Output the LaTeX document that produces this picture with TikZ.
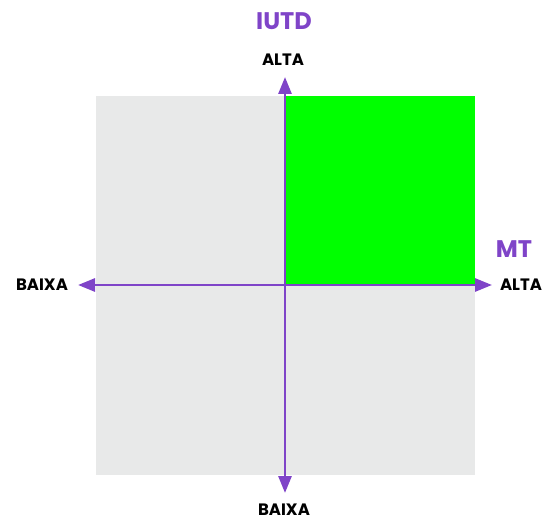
\documentclass[tikz,border=0pt]{standalone}
\usepackage{fontspec}
\setmainfont{Poppins}
\usetikzlibrary{arrows.meta}
\definecolor{axispurple}{HTML}{7F44C8}
\definecolor{panelgray}{HTML}{E8E9E9}
\definecolor{quadgreen}{HTML}{00FF00}
\tikzset{
  axisline/.style={draw=axispurple, line width=2.8pt,
    arrows={Triangle[length=17pt,width=13pt]-Triangle[length=17pt,width=13pt]}},
  endlabel/.style={font=\bfseries\fontsize{16.5}{18}\selectfont, text=black, inner sep=0pt},
  axistitle/.style={font=\bfseries\fontsize{24}{26}\selectfont, text=axispurple, inner sep=0pt},
}
\begin{document}
\begin{tikzpicture}[x=1pt,y=-1pt]
  \useasboundingbox (0,0) rectangle (546,521);
  % quadrant panel and highlighted upper-right quadrant
  \fill[panelgray] (96,96) rectangle (475,475);
  \fill[quadgreen] (285,96) rectangle (475,285);
  % axis end points
  \coordinate (left) at (78,285);
  \coordinate (right) at (492,285);
  \coordinate (top) at (285,77);
  \coordinate (bottom) at (285,493);
  \draw[axisline] (left) -- (right);
  \draw[axisline] (bottom) -- (top);
  % labels
  \node[axistitle] (ytitle) at (284,21) {IUTD};
  \node[endlabel] (yhigh) at (283,60) {ALTA};
  \node[endlabel] (ylow) at (284,510) {BAIXA};
  \node[axistitle] (xtitle) at (514,249) {MT};
  \node[endlabel] (xhigh) at (521,285) {ALTA};
  \node[endlabel] (xlow) at (42,285) {BAIXA};
\end{tikzpicture}
\end{document}
